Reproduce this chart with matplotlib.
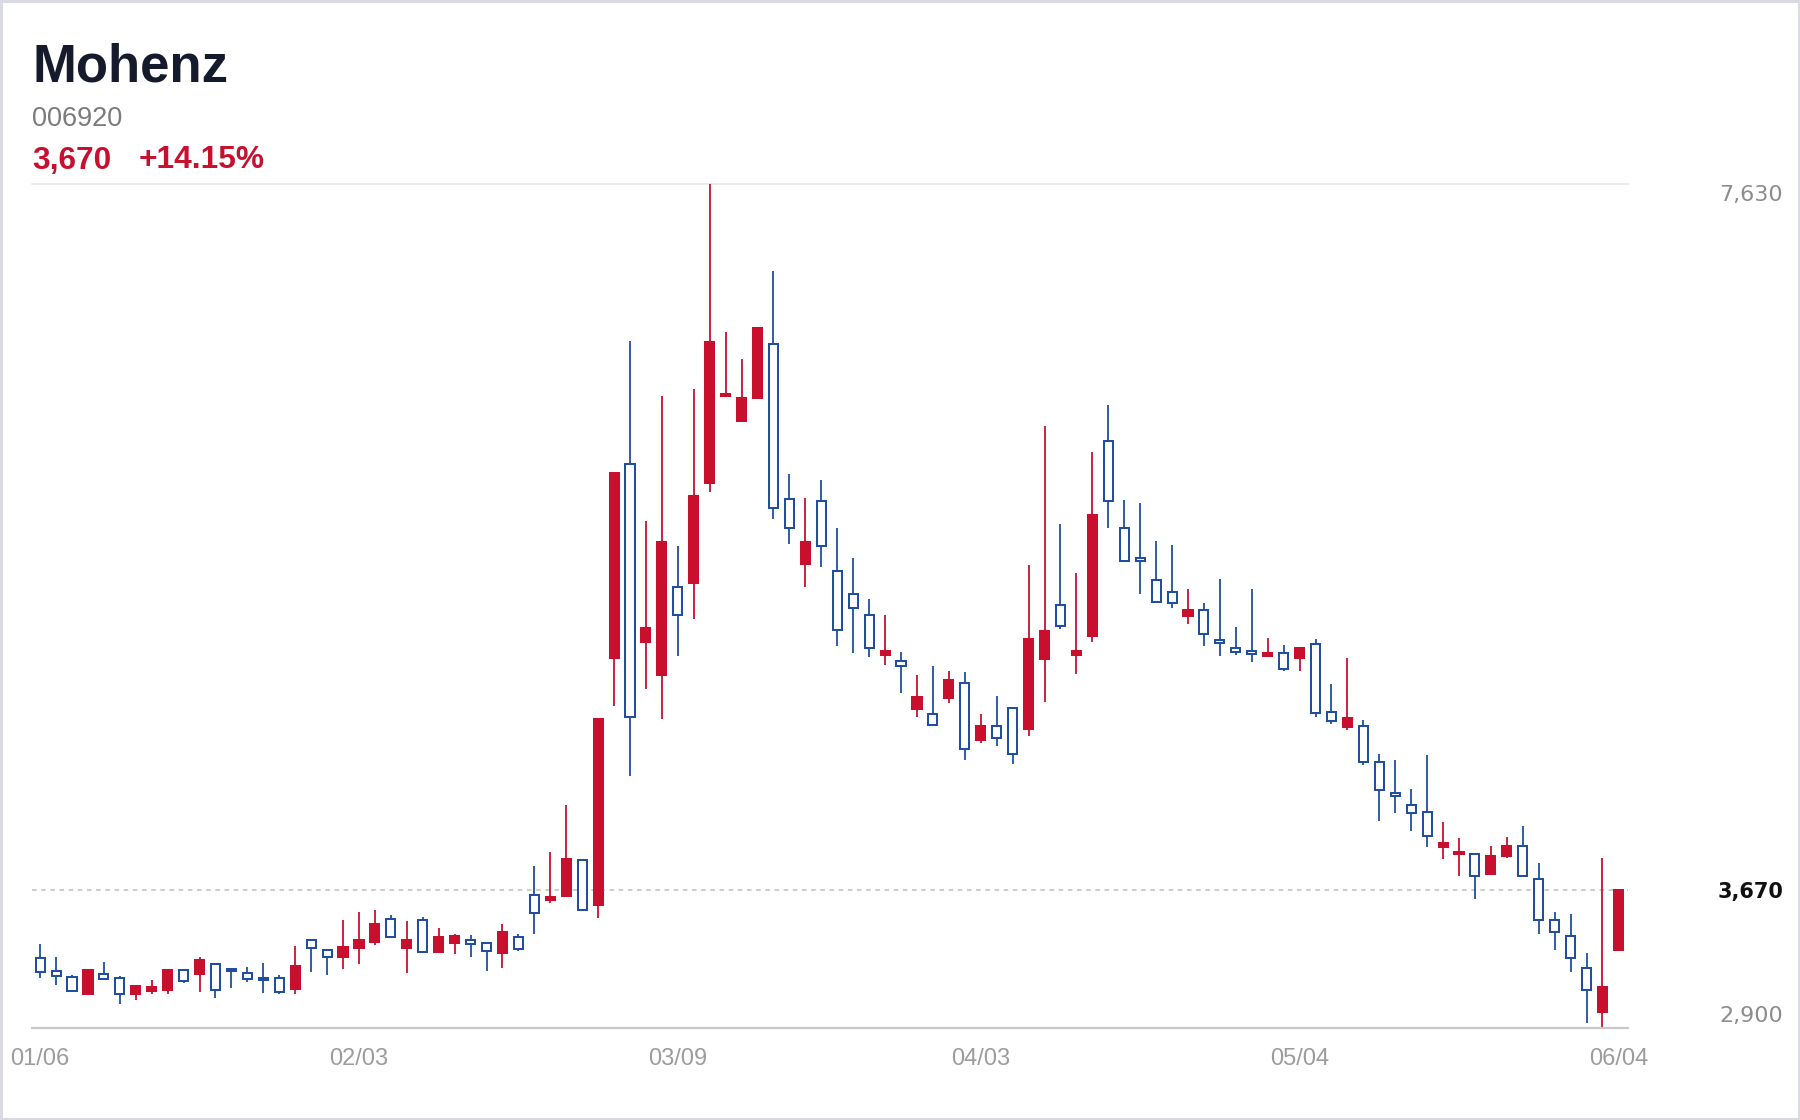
import matplotlib
matplotlib.use("Agg")
import matplotlib.pyplot as plt
from matplotlib.patches import Rectangle
import numpy as np

# ---------------- data ----------------
name = "Mohenz"
code = "006920"
last_price = "3,670"
change_pct = "+14.15%"

opens = [3290, 3215, 3185, 3090, 3200, 3175, 3085, 3105, 3110, 3220,
         3200, 3255, 3230, 3205, 3180, 3180, 3115, 3390, 3335, 3295,
         3345, 3380, 3510, 3345, 3500, 3325, 3375, 3390, 3375, 3315,
         3405, 3645, 3615, 3635, 3840, 3585, 4970, 6060, 5060, 4875,
         5370, 5390, 5950, 6440, 6300, 6430, 6730, 5860, 5500, 5850,
         5460, 5330, 5210, 4990, 4955, 4685, 4655, 4745, 4830, 4510,
         4590, 4690, 4575, 4965, 5270, 4990, 5095, 6190, 5700, 5530,
         5410, 5340, 5205, 5240, 5070, 5030, 5010, 4985, 5000, 4970,
         5050, 4670, 4585, 4590, 4390, 4215, 4150, 4110, 3910, 3870,
         3870, 3760, 3860, 3920, 3730, 3505, 3415, 3235, 2985, 3335]
highs = [3370, 3295, 3195, 3230, 3265, 3190, 3135, 3165, 3220, 3230,
         3295, 3255, 3230, 3240, 3260, 3195, 3355, 3390, 3335, 3505,
         3545, 3560, 3530, 3495, 3520, 3460, 3425, 3420, 3375, 3480,
         3425, 3805, 3885, 4145, 3840, 4630, 6010, 6750, 5740, 6440,
         5600, 6480, 7630, 6800, 6650, 6820, 7140, 6000, 5870, 5970,
         5700, 5530, 5300, 5215, 5005, 4875, 4925, 4900, 4890, 4655,
         4760, 4690, 5495, 6270, 5725, 5445, 6125, 6390, 5855, 5840,
         5625, 5605, 5360, 5280, 5415, 5145, 5360, 5085, 5045, 5035,
         5075, 4825, 4970, 4625, 4435, 4400, 4235, 4430, 4050, 3965,
         3870, 3915, 3970, 4030, 3820, 3545, 3535, 3320, 3850, 3670]
lows = [3175, 3140, 3105, 3080, 3165, 3030, 3055, 3090, 3085, 3150,
        3100, 3065, 3120, 3155, 3095, 3085, 3085, 3210, 3195, 3230,
        3255, 3360, 3400, 3205, 3325, 3325, 3310, 3295, 3215, 3235,
        3330, 3425, 3600, 3635, 3560, 3515, 4700, 4310, 4800, 4630,
        4980, 5190, 5900, 6440, 6300, 6430, 5750, 5610, 5370, 5480,
        5040, 5000, 4975, 4930, 4775, 4640, 4595, 4720, 4400, 4495,
        4480, 4375, 4535, 4725, 5135, 4880, 5060, 5700, 5510, 5330,
        5285, 5250, 5160, 5040, 4980, 4990, 4950, 4985, 4900, 4900,
        4640, 4600, 4570, 4370, 4055, 4100, 4000, 3910, 3845, 3750,
        3620, 3760, 3850, 3750, 3425, 3335, 3210, 2925, 2900, 3335]
closes = [3210, 3190, 3105, 3220, 3170, 3090, 3135, 3125, 3220, 3160,
          3280, 3110, 3215, 3170, 3165, 3100, 3245, 3345, 3295, 3350,
          3390, 3480, 3405, 3390, 3325, 3405, 3415, 3370, 3330, 3435,
          3340, 3540, 3630, 3845, 3560, 4630, 6010, 4640, 5140, 5620,
          5210, 5880, 6740, 6450, 6430, 6820, 5810, 5700, 5620, 5600,
          5130, 5250, 5030, 5010, 4925, 4750, 4595, 4850, 4460, 4590,
          4525, 4435, 5080, 5125, 5150, 5010, 5775, 5850, 5515, 5515,
          5285, 5280, 5240, 5105, 5055, 5005, 4995, 5000, 4910, 5030,
          4665, 4620, 4635, 4390, 4230, 4195, 4105, 3975, 3935, 3885,
          3750, 3860, 3915, 3750, 3505, 3435, 3290, 3110, 3125, 3670]

tick_idx = [0, 20, 40, 59, 79, 99]
tick_labels = ["01/06", "02/03", "03/09", "04/03", "05/04", "06/04"]
y_min, y_max = 2900, 7630
ref_price = 3670

# ---------------- style ----------------
RED = "#c8102e"
BLUE = "#1f4f9e"
W, H = 1800, 1120

plt.rcParams["font.family"] = ["Liberation Sans", "DejaVu Sans"]

fig = plt.figure(figsize=(W / 100, H / 100), dpi=100)
fig.patch.set_facecolor("white")

# outer frame
fig.patches.append(Rectangle((0.0008, 0.001), 0.9984, 0.998, transform=fig.transFigure,
                             fill=False, edgecolor="#dadae2", linewidth=2.2))

left, right, top, bottom = 32, 1628, 183.7, 1027.5
ax = fig.add_axes([left / W, 1 - bottom / H, (right - left) / W, (bottom - top) / H])
ax.set_facecolor("white")
for s in ax.spines.values():
    s.set_visible(False)

x = np.arange(len(opens))
o = np.array(opens, float)
c = np.array(closes, float)
hi = np.array(highs, float)
lo = np.array(lows, float)
up = c >= o
edge = np.where(up, RED, BLUE)
face = np.where(up, RED, "white")

ax.vlines(x, lo, hi, colors=edge, linewidth=1.3, zorder=2)
ax.bar(x, np.abs(c - o), bottom=np.minimum(o, c), width=0.57,
       color=face, edgecolor=edge, linewidth=1.45, zorder=3)

ax.set_xlim(-0.51, 99.6)
ax.set_ylim(y_min, y_max)

# lines
ax.axhline(y_max, color="#e8e8e8", linewidth=1.2, zorder=1, clip_on=False)
ax.axhline(y_min, color="#c9c9c9", linewidth=1.6, zorder=4, clip_on=False)
ax.axhline(ref_price, color="#bfbfbf", linewidth=1.1, dashes=(3, 3), zorder=1)

# x ticks
ax.set_xticks(tick_idx, tick_labels)
ax.tick_params(axis="x", length=0, pad=27.0, labelsize=17, labelcolor="#9c9c9c")
for lbl in ax.get_xticklabels():
    lbl.set_verticalalignment("baseline")
ax.set_yticks([])

# y labels on the right
ykw = dict(xycoords=("axes fraction", "data"), textcoords="offset points",
           ha="right", va="baseline", family=["DejaVu Sans"])
ax.annotate(f"{y_max:,}", xy=(1, y_max), xytext=(111.6, -12.5),
            fontsize=16, color="#8c8c8c", **ykw)
ax.annotate(f"{y_min:,}", xy=(1, y_min), xytext=(111.6, 4.0),
            fontsize=16, color="#8c8c8c", **ykw)
ax.annotate(f"{ref_price:,}", xy=(1, ref_price), xytext=(111.6, -5.5),
            fontsize=15, color="#111111", fontweight="bold", **ykw)

# header
fig.text(32 / W, 1 - 81.5 / H, name, fontsize=38, fontweight="bold",
         color="#151b2c", va="baseline", ha="left")
fig.text(32 / W, 1 - 126 / H, code, fontsize=19.5, color="#7b7b7b",
         va="baseline", ha="left")
fig.text(32 / W, 1 - 168.5 / H, last_price, fontsize=22.8, fontweight="bold",
         color=RED, va="baseline", ha="left")
fig.text(139 / W, 1 - 168.5 / H, change_pct, fontsize=22.8, fontweight="bold",
         color=RED, va="baseline", ha="left")

fig.savefig("out.png", dpi=100, facecolor="white")
